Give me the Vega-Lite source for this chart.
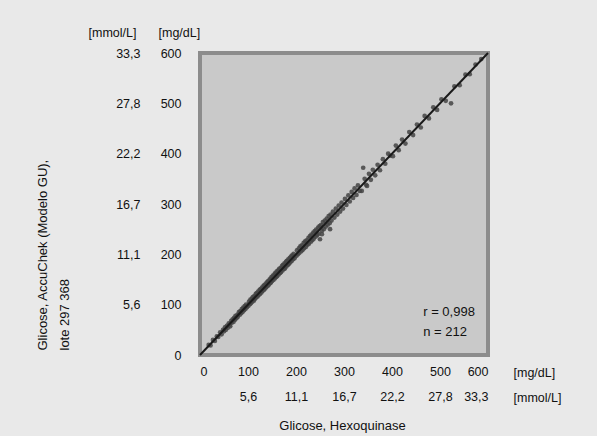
{
  "$schema": "https://vega.github.io/schema/vega-lite/v6.json",
  "autosize": {"type": "none"},
  "padding": {"left": 200, "top": 53, "right": 109, "bottom": 81},
  "width": 288,
  "height": 302,
  "background": "#e9e9e9",
  "config": {
    "view": {"fill": "#c9c9c9", "stroke": "#8c8c8c", "strokeWidth": 4},
    "font": "Liberation Sans",
    "axis": {"labelFont": "Liberation Sans", "titleFont": "Liberation Sans", "labelColor": "#111111", "titleColor": "#111111", "labelFontSize": 12.5, "titleFontSize": 12.5, "titleFontWeight": "normal", "grid": false, "domain": false, "ticks": false}
  },
  "resolve": {"axis": {"x": "independent", "y": "independent"}},
  "layer": [
    {
      "data": {"values": [
        {"x":18,"y":20},{"x":22,"y":19},{"x":27,"y":30},{"x":31,"y":28},{"x":35,"y":37},{"x":38,"y":36},{"x":42,"y":45},{"x":45,"y":41},{"x":48,"y":50},{"x":50,"y":47},
        {"x":52,"y":55},{"x":54,"y":50},{"x":56,"y":58},{"x":58,"y":54},{"x":60,"y":63},{"x":62,"y":60},{"x":63,"y":57},{"x":65,"y":68},{"x":66,"y":64},{"x":68,"y":71},
        {"x":70,"y":66},{"x":71,"y":74},{"x":73,"y":70},{"x":74,"y":78},{"x":76,"y":73},{"x":78,"y":80},{"x":79,"y":76},{"x":81,"y":85},{"x":83,"y":80},{"x":84,"y":87},
        {"x":86,"y":83},{"x":87,"y":91},{"x":89,"y":86},{"x":90,"y":94},{"x":92,"y":89},{"x":93,"y":97},{"x":95,"y":92},{"x":96,"y":100},{"x":98,"y":95},
        {"x":101,"y":98},{"x":102,"y":106},{"x":104,"y":101},{"x":105,"y":110},{"x":106,"y":103},{"x":108,"y":112},{"x":109,"y":106},{"x":110,"y":115},{"x":112,"y":108},{"x":113,"y":117},
        {"x":114,"y":111},{"x":116,"y":121},{"x":117,"y":114},{"x":118,"y":123},{"x":120,"y":116},{"x":121,"y":126},{"x":122,"y":119},{"x":124,"y":129},{"x":125,"y":121},{"x":126,"y":131},
        {"x":128,"y":124},{"x":129,"y":134},{"x":130,"y":127},{"x":132,"y":137},{"x":133,"y":129},{"x":134,"y":139},{"x":136,"y":132},{"x":137,"y":142},{"x":138,"y":135},{"x":140,"y":145},
        {"x":141,"y":137},{"x":142,"y":147},{"x":144,"y":140},{"x":145,"y":150},{"x":146,"y":143},{"x":147,"y":152},{"x":148,"y":144},{"x":149,"y":155},{"x":150,"y":147},
        {"x":152,"y":158},{"x":153,"y":149},{"x":155,"y":160},{"x":156,"y":152},{"x":157,"y":163},{"x":159,"y":155},{"x":160,"y":166},{"x":161,"y":157},{"x":163,"y":168},{"x":164,"y":160},
        {"x":165,"y":171},{"x":167,"y":163},{"x":168,"y":173},{"x":169,"y":165},{"x":171,"y":177},{"x":172,"y":168},{"x":173,"y":179},{"x":175,"y":171},{"x":176,"y":182},{"x":177,"y":172},
        {"x":179,"y":185},{"x":180,"y":176},{"x":181,"y":187},{"x":183,"y":179},{"x":184,"y":190},{"x":185,"y":181},{"x":187,"y":193},{"x":188,"y":184},{"x":190,"y":196},{"x":191,"y":187},
        {"x":192,"y":198},{"x":194,"y":190},{"x":195,"y":201},{"x":197,"y":192},
        {"x":201,"y":197},{"x":202,"y":208},{"x":204,"y":200},{"x":206,"y":212},{"x":207,"y":203},{"x":209,"y":216},{"x":211,"y":206},{"x":212,"y":218},{"x":214,"y":209},{"x":216,"y":223},
        {"x":217,"y":212},{"x":219,"y":226},{"x":221,"y":215},{"x":222,"y":228},{"x":224,"y":219},{"x":226,"y":233},{"x":227,"y":221},{"x":229,"y":236},{"x":231,"y":225},{"x":232,"y":239},
        {"x":234,"y":228},{"x":236,"y":243},{"x":237,"y":231},{"x":239,"y":246},{"x":241,"y":235},{"x":242,"y":249},{"x":244,"y":238},{"x":246,"y":253},{"x":247,"y":241},{"x":249,"y":256},
        {"x":250,"y":230},{"x":254,"y":240},{"x":271,"y":250},
        {"x":252,"y":258},{"x":254,"y":247},{"x":256,"y":264},{"x":258,"y":250},{"x":260,"y":267},{"x":262,"y":255},{"x":264,"y":271},{"x":266,"y":259},{"x":268,"y":276},{"x":270,"y":262},
        {"x":272,"y":279},{"x":274,"y":267},{"x":277,"y":285},{"x":280,"y":273},{"x":283,"y":291},{"x":286,"y":279},{"x":289,"y":297},{"x":292,"y":285},{"x":295,"y":303},{"x":298,"y":291},
        {"x":302,"y":310},{"x":305,"y":298},{"x":309,"y":317},{"x":312,"y":305},{"x":316,"y":324},{"x":319,"y":312},{"x":322,"y":331},{"x":326,"y":318},{"x":329,"y":337},{"x":333,"y":326},
        {"x":337,"y":326},{"x":340,"y":372},{"x":343,"y":350},{"x":346,"y":338},{"x":348,"y":336},
        {"x":352,"y":360},{"x":356,"y":348},{"x":360,"y":368},{"x":365,"y":357},{"x":370,"y":378},{"x":375,"y":367},{"x":381,"y":389},{"x":386,"y":380},{"x":392,"y":400},{"x":396,"y":396},
        {"x":402,"y":395},{"x":408,"y":416},{"x":414,"y":407},{"x":421,"y":428},{"x":428,"y":420},{"x":436,"y":443},{"x":444,"y":437},
        {"x":452,"y":458},{"x":460,"y":452},{"x":468,"y":475},{"x":477,"y":470},{"x":486,"y":492},{"x":494,"y":487},
        {"x":503,"y":508},{"x":512,"y":505},{"x":523,"y":500},{"x":530,"y":534},{"x":541,"y":536},
        {"x":553,"y":557},{"x":562,"y":558},{"x":574,"y":577},{"x":586,"y":588}
      ]},
      "mark": {"type": "circle", "size": 22, "color": "#444444", "opacity": 0.85},
      "encoding": {
        "x": {"field": "x", "type": "quantitative", "scale": {"domain": [0, 600], "nice": false},
          "axis": {"orient": "bottom", "values": [0,100,200,300,400,500,600], "labelPadding": 10, "format": "d", "title": "[mg/dL]", "titleAngle": 0, "titleAlign": "left", "titleBaseline": "middle", "titleX": 313, "titleY": 17}},
        "y": {"field": "y", "type": "quantitative", "scale": {"domain": [0, 600], "nice": false},
          "axis": {"orient": "left", "values": [0,100,200,300,400,500,600], "labelPadding": 19, "format": "d", "title": "[mg/dL]", "titleAngle": 0, "titleAlign": "left", "titleBaseline": "middle", "titleX": -42, "titleY": -21}}
      }
    },
    {
      "data": {"values": [{"x": 0, "y": 0}, {"x": 600, "y": 600}]},
      "mark": {"type": "line", "color": "#1a1a1a", "strokeWidth": 2},
      "encoding": {
        "x": {"field": "x", "type": "quantitative",
          "axis": {"orient": "bottom", "values": [100,200,300,400,500,600], "labelPadding": 35, "labelExpr": "replace(format(datum.value/18, '.1f'), '.', ',')", "title": "[mmol/L]", "titleAngle": 0, "titleAlign": "left", "titleBaseline": "middle", "titleX": 313, "titleY": 42}},
        "y": {"field": "y", "type": "quantitative",
          "axis": {"orient": "left", "values": [100,200,300,400,500,600], "labelPadding": 60, "labelExpr": "replace(format(datum.value/18, '.1f'), '.', ',')", "title": "[mmol/L]", "titleAngle": 0, "titleAlign": "left", "titleBaseline": "middle", "titleX": -112, "titleY": -21}}
      }
    },
    {
      "data": {"values": [{"label": "r = 0,998\nn = 212"}]},
      "mark": {"type": "text", "align": "left", "baseline": "middle", "lineBreak": "\n", "lineHeight": 20, "fontSize": 13, "color": "#111111", "font": "Liberation Sans"},
      "encoding": {
        "text": {"field": "label"},
        "x": {"datum": 465, "type": "quantitative",
          "axis": {"orient": "bottom", "labels": false, "title": "Glicose, Hexoquinase", "titleFontSize": 13, "titleAngle": 0, "titleAlign": "center", "titleBaseline": "middle", "titleX": 142, "titleY": 70}},
        "y": {"datum": 85, "type": "quantitative",
          "axis": {"orient": "left", "labels": false, "title": ["Glicose, AccuChek (Modelo GU),", "lote 297 368"], "titleFontSize": 13, "titleLineHeight": 22, "titleAngle": 270, "titleAlign": "left", "titleBaseline": "middle", "titleX": -158, "titleY": 297}}
      }
    }
  ]
}
